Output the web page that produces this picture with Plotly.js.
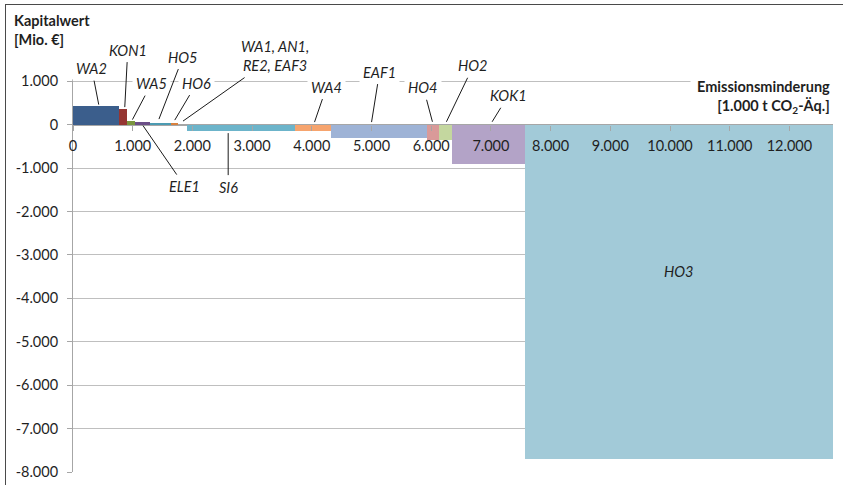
<!DOCTYPE html>
<html>
<head>
<meta charset="utf-8">
<script src="https://cdn.plot.ly/plotly-3.0.1.min.js"></script>
<style>
  html, body { margin: 0; padding: 0; background: #fff; }
  #wrap { position: relative; width: 843px; height: 485px; }
  #chart { width: 843px; height: 485px; }
  #frame { position: absolute; left: 5px; top: 4px; width: 838px; height: 481px;
           border-top: 1.5px solid #4a4a4a; border-left: 1.5px solid #4a4a4a;
           box-sizing: border-box; pointer-events: none; }
</style>
</head>
<body>
<div id="wrap"><div id="chart"></div><div id="frame"></div></div>
<script>
// Measures (left to right along the curve)
const measures = ["WA2", "KON1", "WA5", "ELE1", "HO5", "HO6", "WA1, AN1, RE2, EAF3",
                  "SI6", "WA4", "EAF1", "HO4", "HO2", "KOK1", "HO3"];
// Emission reduction per measure [1.000 t CO2-Äq.] (bar widths)
const reduction = [770, 135, 135, 245, 352, 123, 156, 1798, 614, 1602, 201, 217, 1223, 5159];
// Capital value per measure [Mio. €] (bar heights)
const capitalValue = [430, 360, 75, 50, 40, 35, -15, -155, -155, -300, -350, -355, -910, -7700];
const barColors = ["#3B5E8C", "#953532", "#7A953F", "#6B4E87", "#4C9BB2", "#D8813F", "#C9D6E6",
                   "#6CB4CA", "#F6A46E", "#9EB3D6", "#D99A99", "#C4D79F", "#B3A3C7", "#A2CAD8"];

const xTickVals = [0, 1000, 2000, 3000, 4000, 5000, 6000, 7000, 8000, 9000, 10000, 11000, 12000];
const xTickText = ["0", "1.000", "2.000", "3.000", "4.000", "5.000", "6.000", "7.000", "8.000",
                   "9.000", "10.000", "11.000", "12.000"];
const yTickVals = [-8000, -7000, -6000, -5000, -4000, -3000, -2000, -1000, 0, 1000];
const yTickText = ["-8.000", "-7.000", "-6.000", "-5.000", "-4.000", "-3.000", "-2.000", "-1.000", "0", "1.000"];

// cumulative positions through the x scale
const starts = [];
let acc = 0;
reduction.forEach(w => { starts.push(acc); acc += w; });
const mids = reduction.map((w, i) => starts[i] + w / 2);
const total = acc;

// label placement: fraction along bar, pointed value, pixel offsets of text
const labelCfg = {
  "WA2":  {f: 0.56, y: 460,  ax: -7, ay: -36},
  "KON1": {f: 0.72, y: 403,  ax: 3,  ay: -57},
  "WA5":  {f: 0.67, y: 115,  ax: 19, ay: -36},
  "ELE1": {f: 0.54, y: -23,  ax: 42, ay: 61},
  "HO5":  {f: 0.44, y: 127,  ax: 24, ay: -62},
  "HO6":  {f: 0.55, y: 104,  ax: 22, ay: -37},
  "WA1, AN1, RE2, EAF3": {f: 0.53, y: 81, ax: 92, ay: -65, text: "WA1, AN1,<br>RE2, EAF3"},
  "SI6":  {f: 0.38, y: -196, ax: 0,  ay: 54},
  "WA4":  {f: 0.54, y: 58,   ax: 12, ay: -35},
  "EAF1": {f: 0.42, y: 58,   ax: 8,  ay: -50},
  "HO4":  {f: 0.45, y: 65,   ax: -9, ay: -34},
  "HO2":  {f: 0.57, y: 65,   ax: 27, ay: -56},
  "KOK1": {f: 0.55, y: 65,   ax: 16, ay: -26}
};

const fontFam = "Lato, 'Open Sans', sans-serif";
const txtColor = "#1f1f1f";
const annotations = [];
measures.forEach((m, i) => {
  const c = labelCfg[m];
  if (!c) return;
  annotations.push({
    x: starts[i] + reduction[i] * c.f, y: c.y, xref: "x", yref: "y",
    text: "<i>" + (c.text || m) + "</i>", showarrow: true, arrowhead: 0,
    arrowwidth: 1, arrowcolor: "#1a1a1a", ax: c.ax, ay: c.ay,
    bgcolor: "#ffffff", borderpad: 3,
    font: {family: fontFam, size: 14.5, color: txtColor}
  });
});
// HO3 label inside bar
const iHO3 = measures.indexOf("HO3");
annotations.push({
  x: mids[iHO3], y: capitalValue[iHO3] * 0.44, xref: "x", yref: "y",
  text: "<i>HO3</i>", showarrow: false,
  font: {family: fontFam, size: 14.5, color: txtColor}
});

const yMin = -8000, yMax = 1050;
const plotTop = 79, plotBottom = 472, plotLeft = 73, plotRight = 833;
const py = p => (plotBottom - p) / (plotBottom - plotTop);
const px = p => (p - plotLeft) / (plotRight - plotLeft);

// axis titles
annotations.push({
  xref: "paper", yref: "paper", x: px(12), y: py(30), xanchor: "left", yanchor: "middle",
  align: "left", showarrow: false,
  text: "<b>Kapitalwert</b><br><b>[Mio. €]</b>",
  font: {family: fontFam, size: 14.5, color: txtColor}
});
annotations.push({
  xref: "paper", yref: "paper", x: px(837), y: py(97), xanchor: "right", yanchor: "middle",
  align: "right", showarrow: false, bgcolor: "#ffffff", borderpad: 6,
  text: "<b>Emissionsminderung</b><br><b>[1.000 t CO<sub>2</sub>-Äq.]</b>",
  font: {family: fontFam, size: 14.5, color: txtColor}
});

const trace = {
  type: "bar",
  x: mids,
  y: capitalValue,
  width: reduction,
  text: measures,
  textposition: "none",
  marker: {color: barColors, line: {width: 0}},
  hoverinfo: "text+y"
};

const layout = {
  width: 843, height: 485,
  margin: {l: plotLeft, r: 843 - plotRight, t: plotTop, b: 485 - plotBottom},
  paper_bgcolor: "#ffffff", plot_bgcolor: "#ffffff",
  showlegend: false,
  bargap: 0,
  font: {family: fontFam, size: 14.5, color: txtColor},
  xaxis: {
    range: [0, total], anchor: "free", position: (0 - yMin) / (yMax - yMin),
    tickvals: xTickVals, ticktext: xTickText,
    ticks: "outside", ticklen: 5, tickcolor: "#A6A6A6", tickwidth: 1,
    ticklabelstandoff: 3,
    showgrid: false, zeroline: false, showline: false,
    tickfont: {family: fontFam, size: 14.5, color: txtColor}
  },
  yaxis: {
    range: [yMin, yMax],
    tickvals: yTickVals, ticktext: yTickText,
    ticks: "outside", ticklen: 5, tickcolor: "#A6A6A6", tickwidth: 1,
    ticklabelstandoff: 6,
    showgrid: true, gridcolor: "#BFBFBF", gridwidth: 1,
    zeroline: true, zerolinecolor: "#A6A6A6", zerolinewidth: 2,
    showline: true, linecolor: "#A6A6A6", linewidth: 1,
    tickfont: {family: fontFam, size: 14.5, color: txtColor}
  },
  annotations: annotations
};

Plotly.newPlot("chart", [trace], layout, {displayModeBar: false, staticPlot: true});
</script>
</body>
</html>
